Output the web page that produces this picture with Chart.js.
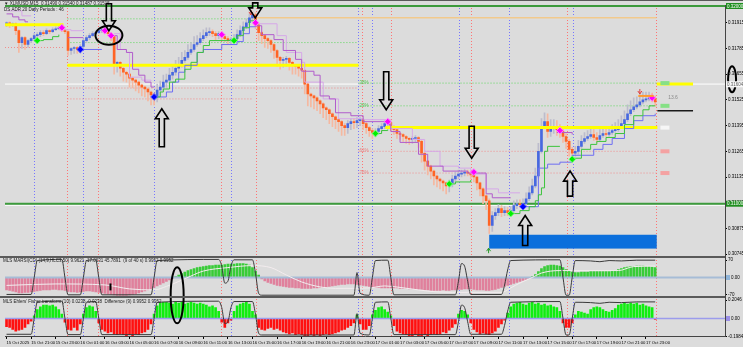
<!DOCTYPE html>
<html>
<head>
<meta charset="utf-8">
<script src="https://cdn.jsdelivr.net/npm/chart.js@4.4.1/dist/chart.umd.min.js"></script>
<style>
  html, body { margin: 0; padding: 0; background: #dcdcdc; }
  #wrap { width: 743px; height: 347px; position: relative; }
  canvas { display: block; }
</style>
</head>
<body>
<div id="wrap"><canvas id="chart" width="743" height="347"></canvas></div>
<script>
// ---- Data (prices in points, 31980 = 0.31980) ----
const timeLabels = ["15 Oct 2025","15 Oct 21:00","15 Oct 23:00","16 Oct 01:00","16 Oct 03:00","16 Oct 05:00",
  "16 Oct 07:00","16 Oct 09:00","16 Oct 11:00","16 Oct 13:00","16 Oct 15:00","16 Oct 17:00","16 Oct 19:00",
  "16 Oct 21:00","16 Oct 23:00","17 Oct 01:00","17 Oct 03:00","17 Oct 05:00","17 Oct 07:00","17 Oct 09:00",
  "17 Oct 11:00","17 Oct 13:00","17 Oct 15:00","17 Oct 17:00","17 Oct 19:00","17 Oct 21:00","17 Oct 23:00"];
const priceTicks = [30745,30810,30875,30940,31005,31070,31135,31200,31265,31330,31395,31460,31525,31590,
  31655,31720,31785,31850,31915,31980];

// M15 candles, one close per bar (open = previous close)
const firstOpen = 31905;
const closes = [
  31915,31905,31910,31875,31815,31840,31805,31825,31835,31850,
  31855,31865,31860,31875,31870,31880,31885,31890,31880,31870,
  31775,31785,31790,31780,31795,31825,31840,31850,31860,31865,
  31875,31880,31870,31860,31845,31705,31715,31685,31665,31655,
  31635,31625,31615,31600,31590,31580,31565,31550,31545,31575,
  31590,31615,31625,31650,31665,31685,31705,31725,31740,31765,
  31780,31805,31815,31835,31850,31865,31870,31860,31850,31860,
  31845,31835,31825,31830,31835,31855,31875,31895,31915,31940,
  31955,31905,31865,31850,31835,31825,31805,31775,31740,31725,
  31730,31735,31715,31700,31695,31685,31675,31605,31555,31545,
  31535,31520,31505,31485,31475,31455,31440,31425,31415,31395,
  31385,31405,31415,31410,31420,31425,31405,31385,31370,31360,
  31365,31380,31390,31405,31410,31390,31375,31355,31350,31340,
  31330,31325,31330,31335,31315,31255,31215,31190,31165,31140,
  31125,31115,31105,31090,31105,31125,31140,31150,31155,31160,
  31155,31145,31135,31105,31075,31040,31015,30890,30940,30955,
  30975,30955,30965,30955,30965,30990,31000,30995,31000,31025,
  31055,31090,31140,31265,31390,31415,31365,31385,31390,31375,
  31365,31340,31315,31275,31255,31265,31290,31315,31330,31340,
  31350,31335,31325,31345,31355,31350,31360,31370,31375,31390,
  31405,31425,31455,31475,31490,31500,31515,31525,31530,31535,
  31530,31515
];
// wick lengths in points below / above the body
const lowTail = [
  10,15,10,20,50,30,25,15,10,10, 10,10,10,5,10,5,5,5,10,10,
  25,20,25,20,15,10,10,10,5,5, 5,10,10,10,20,50,40,40,45,40,
  45,40,45,40,45,40,45,50,45,30, 30,20,25,20,20,15,15,15,10,10,
  10,10,10,10,10,10,15,15,20,15, 15,15,20,15,10,10,10,10,10,10,
  10,20,40,40,45,40,40,40,45,45, 35,35,40,45,40,40,40,50,60,55,
  55,50,50,50,50,50,50,45,50,50, 40,30,30,30,25,25,30,30,30,30,
  20,15,15,10,10,20,25,25,25,25, 25,25,20,20,30,45,45,45,40,45,
  40,40,40,40,30,20,20,15,15,15, 15,20,25,35,35,40,45,40,30,20,
  15,20,15,15,15,15,15,15,15,15, 10,10,10,10,10,10,30,25,30,30,
  30,30,35,35,30,15,15,10,10,10, 10,15,15,10,10,10,10,10,10,10,
  10,10,10,10,10,10,10,10,10,10, 15,20
];
const highTail = [
  5,5,5,5,5,5,5,5,5,10, 10,10,10,10,5,10,10,10,5,5,
  5,5,5,5,10,10,10,10,10,10, 10,5,5,5,5,5,5,5,5,5,
  5,5,5,5,5,5,5,5,10,30, 30,35,30,35,30,40,35,40,35,40,
  35,40,35,30,30,25,20,10,10,10, 10,10,10,10,20,25,25,25,20,20,
  10,10,5,5,5,5,5,5,5,5, 10,10,5,5,5,5,5,5,5,5,
  5,5,5,5,5,5,5,5,5,5, 10,15,15,15,15,10,5,5,5,10,
  15,15,15,15,10,5,5,5,5,5, 5,5,10,10,5,5,5,5,5,5,
  5,5,5,5,15,20,20,20,15,15, 10,10,5,5,5,5,5,10,20,20,
  20,15,20,15,20,25,20,20,25,30, 30,35,40,40,40,45,40,40,35,30,
  25,20,15,10,10,25,30,30,30,30, 30,25,25,30,30,30,30,30,35,35,
  40,45,45,45,45,40,40,40,35,30, 25,15
];

// trailing step lines [bar, price]
const darkPurpleSegs = [
  [[0,31960],[2,31945],[4,31930],[6,31920],[7,31920]],
  [[20,31840],[25,31840]],
  [[34,31850],[36,31780],[39,31765],[41,31680],[43,31650],[45,31615],[47,31590],[48,31590]],
  [[81,31900],[83,31855],[87,31830],[90,31775],[94,31730],[96,31670],[100,31650],[102,31545],[105,31530],
   [107,31460],[112,31445],[116,31415],[124,31400],[125,31365],[128,31310],[134,31250],[137,31190],
   [142,31165],[150,31155],[156,31050],[158,31030],[164,31030]],
  [[179,31360],[184,31350]]
];
const lavenderSegs = [
  [[0,31975],[5,31950],[8,31950]],
  [[17,31880],[21,31875],[25,31875]],
  [[35,31860],[37,31780],[39,31765],[40,31640],[44,31625],[47,31620]],
  [[82,31910],[88,31850],[91,31765],[96,31715],[97,31615],[103,31530],[108,31430],[116,31425],[125,31380],
   [132,31325],[136,31265],[141,31190],[147,31180],[151,31150],[156,31075],[160,31055],[167,31055]]
];
const greenSegs = [
  [[9,31825],[12,31830],[15,31845],[17,31855]],
  [[48,31540],[50,31565],[51,31580],[53,31615],[55,31630],[58,31680],[60,31715],[62,31765],[64,31800],
   [66,31825],[74,31830],[75,31850],[77,31890],[79,31925],[81,31940]],
  [[120,31355],[122,31370],[124,31375]],
  [[144,31100],[146,31110],[151,31120]],
  [[164,30950],[167,30965],[170,30985],[172,31015],[173,31045],[174,31080],[175,31265],[176,31290],[180,31290]],
  [[184,31230],[187,31275],[190,31300],[192,31315],[195,31335],[198,31355],[201,31400],[204,31445],
   [207,31475],[209,31495],[211,31495]]
];
const blueSegs = [
  [[24,31780],[31,31780]],
  [[48,31540],[52,31565],[54,31615],[56,31665],[58,31700],[62,31765],[64,31780],[70,31805],[75,31820],
   [77,31860],[79,31895],[81,31915]],
  [[168,30985],[173,31180],[176,31200],[180,31210],[184,31245],[191,31275],[194,31300],[197,31330],
   [201,31380],[204,31420],[207,31445],[211,31455]]
];

// signal diamonds [bar, price]
const magentaPts = [[18,31890],[32,31875],[34,31850],[70,31855],[81,31915],[124,31415],[152,31160],[180,31370],[210,31535]];
const greenPts = [[10,31825],[74,31825],[120,31355],[144,31100],[164,30950],[184,31225]];
const bluePts = [[24,31780],[48,31540],[168,30985]];

// horizontal levels [fromBar, toBar, price]
const yellowLevels = [[-0.5,18.5,31905],[19.8,114.5,31700],[123.2,211.7,31385],[211.5,223.3,31605]];
const whiteLevels = [[-0.5,114.5,31605],[223.3,233.7,31605],[-0.5,233.7,30992]];
const greenSolidLevels = [[-0.5,233.7,32000],[-0.5,233.7,31000]];
const greenDotLevels = [[19.8,80.3,31935],[19.8,114.5,31815],[114.5,211.4,31610],[114.5,211.4,31495]];
const redDotLevels = [[-0.5,19,31790],[19.8,114.5,31585],[19.8,80.3,31530],[114.5,211.4,31265],[114.5,211.4,31155]];
const peachLevels = [[80.3,211.4,31940]];
const blackLevels = [[211.7,223.3,31470]];

// session separators (bar positions)
const blueVLines = [8.9,25,47.9,73.1,114.2,119,147.1,163.3,184.3];
const redVLines = [19.8,29.9,69.9,81.2,115.5,125.1,151,182.3,211.4];

// blue zone [fromBar, toBar, low, high]
const blueZone = [157, 211.5, 30773, 30843];

// MARSI(CD) histogram
const macdHist = [
  -50,-52,-55,-58,-62,-62,-60,-60,-58,-56,
  -54,-52,-50,-50,-50,-48,-48,-50,-50,-52,
  -56,-58,-58,-60,-58,-56,-54,-54,-56,-58,
  -60,-62,-64,-66,-68,-70,-72,-72,-72,-72,
  -70,-68,-66,-62,-58,-54,-50,-46,-40,-34,
  -28,-22,-16,-10,-5,4,10,16,22,28,
  32,36,40,42,44,46,48,48,50,50,
  50,52,54,54,54,56,56,56,54,50,
  40,26,10,-6,-14,-20,-24,-28,-32,-34,
  -36,-38,-40,-40,-42,-42,-44,-44,-44,-44,
  -42,-42,-40,-40,-38,-36,-34,-32,-30,-28,
  -28,-26,-26,-26,-28,-30,-32,-34,-36,-38,
  -40,-40,-42,-42,-42,-42,-42,-42,-44,-44,
  -44,-46,-46,-46,-48,-48,-50,-50,-52,-52,
  -52,-52,-50,-52,-52,-50,-50,-48,-48,-46,
  -46,-46,-48,-50,-50,-50,-52,-52,-50,-48,
  -44,-40,-36,-32,-28,-24,-20,-16,-12,-8,
  -4,4,12,24,36,44,48,50,50,48,
  46,40,32,26,22,20,20,22,22,22,
  24,24,24,24,24,24,24,26,28,32,
  36,40,42,44,44,46,46,46,44,44,
  42,40
];
const macdSignalPts = [[0,-32],[16,-26],[32,-30],[40,-46],[48,-50],[52,-36],[56,-16],[60,6],[64,26],[72,40],
  [80,48],[86,40],[91,10],[96,-18],[102,-38],[107,-44],[118,-42],[123,-34],[128,-40],[134,-50],[140,-58],
  [150,-60],[161,-60],[164,-42],[167,-22],[171,0],[174,18],[180,28],[199,28],[204,44],[211,46]];

// Fisher transform histogram
const fisherHist = [
  -0.09,-0.10,-0.12,-0.14,-0.13,-0.12,-0.10,-0.06,-0.03,0.03,
  0.10,0.13,0.15,0.15,0.14,0.15,0.13,0.10,0.05,-0.04,
  -0.12,-0.13,-0.10,-0.13,-0.06,0.05,0.12,0.14,0.13,0.08,
  -0.05,-0.12,-0.14,-0.16,-0.15,-0.17,-0.18,-0.17,-0.18,-0.19,
  -0.18,-0.19,-0.17,-0.18,-0.16,-0.15,-0.12,-0.06,0.05,0.14,
  0.17,0.18,0.18,0.17,0.16,0.18,0.17,0.18,0.16,0.17,
  0.18,0.17,0.16,0.17,0.16,0.15,0.13,0.14,0.12,0.08,
  -0.04,-0.10,-0.05,-0.02,0.08,0.14,0.16,0.17,0.18,0.16,
  0.08,0.04,-0.10,-0.12,-0.13,-0.11,-0.10,-0.12,-0.11,-0.13,
  -0.15,-0.16,-0.17,-0.16,-0.18,-0.17,-0.18,-0.19,-0.19,-0.18,
  -0.19,-0.18,-0.19,-0.18,-0.17,-0.18,-0.17,-0.16,-0.15,-0.13,
  -0.12,-0.10,-0.08,-0.05,0.04,-0.06,-0.12,-0.12,-0.08,0.04,
  0.09,0.12,0.13,0.10,0.07,0.03,-0.08,-0.14,-0.16,-0.17,
  -0.18,-0.19,-0.19,-0.18,-0.19,-0.19,-0.18,-0.19,-0.18,-0.17,
  -0.18,-0.17,-0.15,-0.16,-0.13,-0.10,-0.06,0.05,0.09,0.08,
  0.04,-0.05,-0.12,-0.15,-0.17,-0.16,-0.17,-0.18,-0.16,-0.14,
  -0.10,-0.06,-0.02,0.06,0.13,0.16,0.17,0.18,0.16,0.15,
  0.17,0.18,0.16,0.17,0.15,0.16,0.14,0.15,0.13,0.12,
  0.08,-0.05,-0.10,-0.10,-0.05,0.04,0.08,0.07,0.06,0.05,
  0.10,0.12,0.13,0.12,0.10,0.08,0.07,0.09,0.11,0.15,
  0.16,0.17,0.16,0.17,0.16,0.17,0.15,0.16,0.14,0.13,
  0.12,-0.01
];

// cycle oscillator drawn in both sub windows, 0..100
const cyclePts = [[0,5],[8,5],[9,50],[10,95],[18,98],[19,50],[20,4],[24,4],[25,50],[26,95],[29,97],[30,50],
  [31,4],[47,4],[48,50],[49,95],[69,98],[70,80],[71,35],[72,40],[73,80],[74,97],[80,97],[81,60],[82,8],
  [83,3],[113,3],[114,63],[115,8],[118,3],[119,50],[120,95],[124,96],[125,50],[126,4],[146,4],[147,40],
  [148,87],[149,80],[150,40],[151,5],[161,5],[162,30],[163,70],[164,95],[180,97],[181,50],[182,3],
  [183,3],[184,50],[185,95],[190,94],[193,92],[196,95],[200,94],[205,96],[211,96]];

// ---- helpers ----
const FONT = '"Liberation Sans", Arial, sans-serif';
Chart.defaults.font.family = FONT;
Chart.defaults.font.size = 4.5;
Chart.defaults.color = '#000';

const toPts = arr => arr.map(([x, y]) => ({x, y}));
function segData(segs) {
  const out = [];
  segs.forEach(seg => {
    seg.forEach(([x, y]) => out.push({x, y}));
    out.push({x: seg[seg.length - 1][0], y: null});
  });
  return out;
}
function levelData(levels) {
  const out = [];
  levels.forEach(([x0, x1, p]) => out.push({x: x0, y: p}, {x: x1, y: p}, {x: x1, y: null}));
  return out;
}
function lineDs(data, color, width, extra) {
  return Object.assign({
    type: 'line', data, borderColor: color, borderWidth: width, pointRadius: 0,
    fill: false, spanGaps: false, yAxisID: 'y', order: 50
  }, extra || {});
}
function diamondDs(pts, color, edge) {
  return {
    type: 'line', data: toPts(pts), showLine: false, yAxisID: 'y', order: 2,
    pointStyle: 'rectRot', pointRadius: 3.4, pointBackgroundColor: color,
    pointBorderColor: edge, pointBorderWidth: 1
  };
}

const opens = closes.map((c, i) => i === 0 ? firstOpen : closes[i - 1]);
const isBull = i => closes[i] >= opens[i];
const candleData = closes.map((c, i) => ({x: i, y: [opens[i], c]}));
const wickData = closes.map((c, i) => ({
  x: i, y: [Math.min(opens[i], c) - lowTail[i], Math.max(opens[i], c) + highTail[i]]
}));
const macdCycle = cyclePts.map(([x, v]) => ({x, y: -76 + v * 1.52}));
const fisherCycle = cyclePts.map(([x, v]) => ({x, y: -0.195 + v * 0.00395}));

// ---- annotations drawn on top ----
const overlay = {
  id: 'overlay',
  beforeDatasetsDraw(chart) {
    const {ctx, chartArea: a, scales: {x, y}} = chart;
    ctx.save();
    ctx.lineWidth = 1;
    ctx.setLineDash([1, 2]);
    [[blueVLines, '#7676ff'], [redVLines, '#ff7474']].forEach(([list, col]) => {
      ctx.strokeStyle = col;
      list.forEach(v => {
        const px = Math.round(x.getPixelForValue(v)) + 0.5;
        ctx.beginPath(); ctx.moveTo(px, a.top); ctx.lineTo(px, a.bottom); ctx.stroke();
      });
    });
    ctx.setLineDash([]);
    const bx0 = x.getPixelForValue(blueZone[0]), bx1 = x.getPixelForValue(blueZone[1]);
    const by0 = y.getPixelForValue(blueZone[3]), by1 = y.getPixelForValue(blueZone[2]);
    ctx.fillStyle = '#0b6fdc';
    ctx.fillRect(bx0, by0, bx1 - bx0, by1 - by0);
    ctx.restore();
  },
  afterDatasetsDraw(chart) {
    const {ctx, scales: {x, y, yM, yF}} = chart;
    const X = v => x.getPixelForValue(v), Y = v => y.getPixelForValue(v);
    ctx.save();
    ctx.textBaseline = 'middle';

    // level labels
    ctx.font = '4.5px ' + FONT;
    [['38%', 31612, '#52c452'], ['23%', 31497, '#52c452'], ['61%', 31267, '#e88080'], ['76%', 31157, '#e88080']]
      .forEach(([t, p, c]) => { ctx.fillStyle = c; ctx.fillText(t, X(114.8), Y(p)); });
    [[31610, '#86e086'], [31495, '#86e086'], [31385, '#f6f6f6'], [31265, '#f4a2a2'], [31155, '#f4a2a2']]
      .forEach(([p, c]) => { ctx.fillStyle = c; ctx.fillRect(X(212.7), Y(p) - 2, 9, 4); });
    ctx.fillStyle = '#8a8a8a';
    ctx.font = '5px ' + FONT;
    ctx.fillText('13.6', X(215.2), Y(31535));

    // orange stop segment near last bars
    ctx.strokeStyle = '#ff9a30'; ctx.lineWidth = 2;
    ctx.beginPath(); ctx.moveTo(X(205.5), Y(31545)); ctx.lineTo(X(210.5), Y(31545)); ctx.stroke();

    // small arrows
    ctx.strokeStyle = '#e04040'; ctx.lineWidth = 1;
    [[79.5, 31960], [206, 31560]].forEach(([i, p]) => {
      const px = X(i), py = Y(p);
      ctx.beginPath(); ctx.moveTo(px - 2, py - 2); ctx.lineTo(px, py + 1); ctx.lineTo(px + 2, py - 2);
      ctx.moveTo(px, py - 4); ctx.lineTo(px, py + 1); ctx.stroke();
    });
    ctx.strokeStyle = '#2a9a2a';
    { const px = X(156.8), py = Y(30770);
      ctx.beginPath(); ctx.moveTo(px - 2, py + 2); ctx.lineTo(px, py - 1); ctx.lineTo(px + 2, py + 2);
      ctx.moveTo(px, py + 4); ctx.lineTo(px, py - 1); ctx.stroke(); }

    // hollow arrows
    const arrow = (px, tip, len, dir) => {
      const hw = 2.6, hh = 6.5, hl = 10;
      const base = tip - dir * len, neck = tip - dir * hl;
      ctx.beginPath();
      ctx.moveTo(px - hw, base); ctx.lineTo(px - hw, neck); ctx.lineTo(px - hh, neck); ctx.lineTo(px, tip);
      ctx.lineTo(px + hh, neck); ctx.lineTo(px + hw, neck); ctx.lineTo(px + hw, base); ctx.closePath();
      ctx.stroke();
    };
    ctx.strokeStyle = '#000'; ctx.lineWidth = 1.6;
    [[33.3, 31875, 27], [80.9, 31940, 15], [123.5, 31475, 38], [151.3, 31230, 32]]
      .forEach(([i, p, l]) => arrow(X(i), Y(p), l, 1));
    [[50.5, 31480, 38], [168.7, 30940, 30], [183.3, 31165, 25]]
      .forEach(([i, p, l]) => arrow(X(i), Y(p), l, -1));

    // ellipses
    ctx.lineWidth = 2;
    [[X(33.3), Y(31852), 13.5, 9.5], [X(55.5), yM.getPixelForValue(-72), 6.5, 28], [X(236), Y(31630), 4, 13]]
      .forEach(([cx, cy, rx, ry]) => { ctx.beginPath(); ctx.ellipse(cx, cy, rx, ry, 0, 0, Math.PI * 2); ctx.stroke(); });

    // marker in MARSI window
    ctx.fillStyle = '#000';
    ctx.fillRect(X(33.8) - 1, yM.getPixelForValue(-24), 2, yM.getPixelForValue(-52) - yM.getPixelForValue(-24));

    // pane separators and frame
    ctx.fillStyle = '#5a5a5a';
    ctx.fillRect(0, Math.round(yM.top) - 1, 725, 2);
    ctx.fillRect(0, Math.round(yF.top) - 1, 725, 2);
    ctx.fillRect(0, 0, 743, 1);

    // window titles
    ctx.fillStyle = '#202020';
    ctx.font = '4.5px ' + FONT;
    ctx.fillText('\u25BC XLMUSD,M15  0.31490 0.31540 0.31487 0.31515', 4, 4);
    ctx.fillText('DS ADR 20 Daily Periods : 46', 4, 10);
    ctx.fillText('MLS MARSI(CD) (14,9,HLC3,50) 9.9621 -17.0631 45.7891  (9 of 40 s) 0.9952 0.9952', 3, yM.top + 4);
    ctx.fillText('MLS Ehlers\' Fisher transform (10) 0.0238 -0.0238  Difference (9) 0.9952 0.9952', 3, yF.top + 4);
    ctx.restore();
  },
  afterDraw(chart) {
    const {ctx, scales: {y, yM, yF}} = chart;
    ctx.save();
    ctx.font = '4.5px ' + FONT;
    ctx.textBaseline = 'middle';
    const box = (py, text, bg, fg) => {
      ctx.fillStyle = bg; ctx.fillRect(726, py - 3, 17, 6);
      ctx.fillStyle = fg; ctx.fillText(text, 727, py + 0.3);
    };
    box(y.getPixelForValue(32000), '0.32000', '#1f8f1f', '#fff');
    box(y.getPixelForValue(31000), '0.31000', '#1f8f1f', '#fff');
    box(y.getPixelForValue(31604), '0.31604', '#f8f8f8', '#606060');
    const small = (py, text, bg) => {
      ctx.fillStyle = bg; ctx.fillRect(726, py - 2.5, 4, 5);
      ctx.fillStyle = '#000'; ctx.fillText(text, 731, py + 0.3);
    };
    small(yM.getPixelForValue(0), '0.00', '#8fb4d8');
    small(yF.getPixelForValue(0), '0.00', '#9a8ee6');
    ctx.restore();
  }
};

const axisCommon = {
  type: 'linear', position: 'right', stack: 'panes',
  grid: {display: true, drawOnChartArea: false, drawTicks: true, tickLength: 2, color: '#000'},
  border: {display: true, color: '#444'},
  afterFit: s => { s.width = 18; }
};

new Chart(document.getElementById('chart'), {
  type: 'line',
  data: {
    datasets: [
      // levels behind everything
      lineDs(levelData(redDotLevels), '#f08c8c', 1, {borderDash: [1, 2], order: 60}),
      lineDs(levelData(greenDotLevels), '#5fd85f', 1, {borderDash: [1, 2], order: 60}),
      lineDs(levelData(peachLevels), '#f2c98c', 1.5, {order: 60}),
      lineDs(levelData(whiteLevels), '#ffffff', 1, {order: 59}),
      lineDs(levelData(greenSolidLevels), '#3c9a3c', 2, {order: 58}),
      lineDs(levelData(blackLevels), '#1a1a1a', 1.5, {order: 58}),
      // candles: pale wicks, then bodies
      {
        type: 'bar', data: wickData, yAxisID: 'y', order: 42, grouped: false, barThickness: 1,
        backgroundColor: c => (isBull(c.dataIndex) ? '#bcbccc' : '#f5b8a0')
      },
      {
        type: 'bar', data: candleData, yAxisID: 'y', order: 40, grouped: false,
        barThickness: 2, minBarLength: 1,
        backgroundColor: c => (isBull(c.dataIndex) ? '#4768e0' : '#ff6424')
      },
      lineDs(levelData(yellowLevels), '#ffff00', 3, {order: 30}),
      // trailing lines
      lineDs(segData(lavenderSegs), '#d6a8e8', 1, {stepped: true, order: 22}),
      lineDs(segData(darkPurpleSegs), '#b15ccb', 1, {stepped: true, order: 21}),
      lineDs(segData(blueSegs), '#6e6ef2', 1, {stepped: true, order: 21}),
      lineDs(segData(greenSegs), '#3cc43c', 1, {stepped: true, order: 20}),
      diamondDs(magentaPts, '#ff00ff', '#ff7cff'),
      diamondDs(greenPts, '#00f000', '#7cff7c'),
      diamondDs(bluePts, '#0000ff', '#5a5aff'),
      // MARSI(CD) window
      {
        type: 'bar', data: macdHist.map((v, i) => ({x: i, y: v})), yAxisID: 'yM', order: 40, grouped: false,
        barThickness: 2, backgroundColor: c => (c.raw && c.raw.y >= 0 ? '#38cc38' : '#e0809c')
      },
      lineDs(levelData([[-0.5, 233.7, 0]]), '#a6bcd6', 2, {yAxisID: 'yM', order: 15}),
      lineDs(toPts(macdSignalPts), '#f3ecee', 1, {yAxisID: 'yM', order: 12, cubicInterpolationMode: 'monotone'}),
      lineDs(macdCycle, '#3a3a3a', 1, {yAxisID: 'yM', order: 10, cubicInterpolationMode: 'monotone'}),
      // Fisher window
      {
        type: 'bar', data: fisherHist.map((v, i) => ({x: i, y: v})), yAxisID: 'yF', order: 40, grouped: false,
        barThickness: 2, backgroundColor: c => (c.raw && c.raw.y >= 0 ? '#10ee10' : '#ff1010')
      },
      lineDs(levelData([[-0.5, 233.7, 0]]), '#9c9cec', 1.5, {yAxisID: 'yF', order: 15}),
      lineDs(fisherCycle, '#3a3a3a', 1, {yAxisID: 'yF', order: 10, cubicInterpolationMode: 'monotone'})
    ]
  },
  options: {
    responsive: false,
    animation: false,
    events: [],
    layout: {padding: {top: 2, left: 0, right: 0, bottom: 0}},
    plugins: {legend: {display: false}, tooltip: {enabled: false}},
    scales: {
      x: {
        type: 'linear', min: -0.5, max: 233.7, offset: false,
        grid: {display: true, drawOnChartArea: false, drawTicks: true, tickLength: 2, color: '#000', offset: false},
        border: {display: true, color: '#444'},
        afterBuildTicks: s => { s.ticks = timeLabels.map((_, k) => ({value: k * 8})); },
        ticks: {
          autoSkip: false, maxRotation: 0, align: 'start', padding: 1.5,
          font: {size: 4.2, lineHeight: 1.2},
          callback: v => timeLabels[Math.round(v / 8)]
        }
      },
      y: Object.assign({}, axisCommon, {
        min: 30732, max: 32005, stackWeight: 254,
        afterBuildTicks: s => { s.ticks = priceTicks.map(v => ({value: v})); },
        ticks: {padding: 1, callback: v => (v / 100000).toFixed(5)}
      }),
      yM: Object.assign({}, axisCommon, {
        min: -80, max: 84, stackWeight: 41,
        afterBuildTicks: s => { s.ticks = [{value: 70}, {value: -70}]; },
        ticks: {padding: 1, callback: v => String(v)}
      }),
      yF: Object.assign({}, axisCommon, {
        min: -0.205, max: 0.235, stackWeight: 40,
        afterBuildTicks: s => { s.ticks = [{value: 0.2046}, {value: -0.1984}]; },
        ticks: {padding: 1, callback: v => v.toFixed(4)}
      })
    }
  },
  plugins: [overlay]
});
</script>
</body>
</html>
